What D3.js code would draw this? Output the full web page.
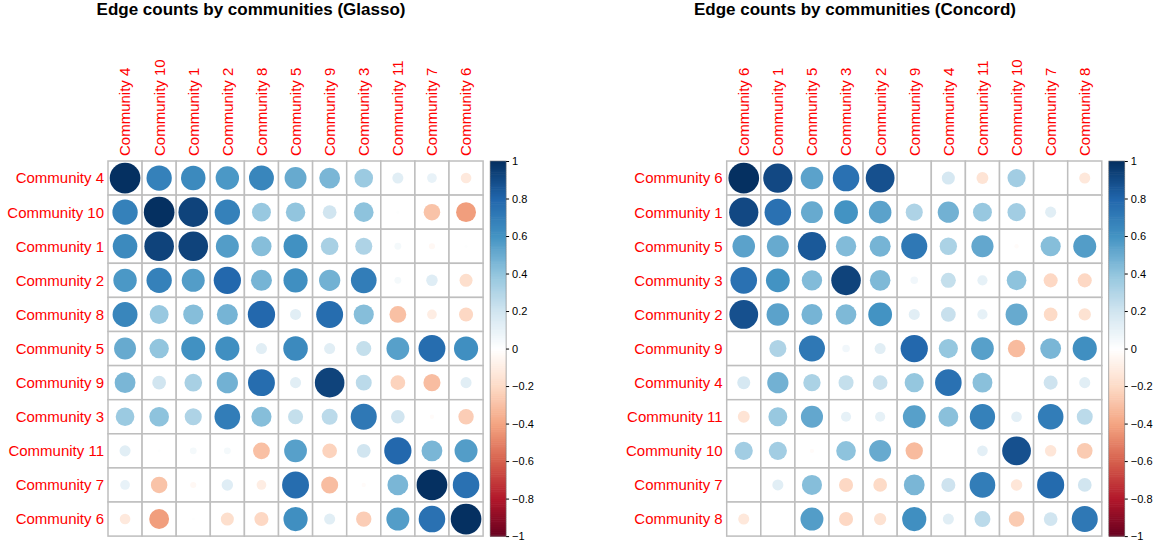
<!DOCTYPE html>
<html>
<head>
<meta charset="utf-8">
<script src="https://cdn.jsdelivr.net/npm/d3@7"></script>
<style>
  body { margin: 0; background: #fff; }
  svg { font-family: "Liberation Sans", Arial, sans-serif; }
</style>
</head>
<body>
<svg id="chart" width="1153" height="546"></svg>
<script>
// order of the communities in each panel (hclust order)
var glassoLabels = ["Community 4", "Community 10", "Community 1", "Community 2", "Community 8",
  "Community 5", "Community 9", "Community 3", "Community 11", "Community 7", "Community 6"];

// values
var glassoValues = [
  [1.00, 0.68, 0.64, 0.58, 0.66, 0.51, 0.46, 0.37, 0.13, 0.10, -0.12],
  [0.68, 1.00, 0.93, 0.68, 0.38, 0.40, 0.20, 0.41, 0.01, -0.29, -0.42],
  [0.64, 0.93, 0.93, 0.56, 0.43, 0.61, 0.33, 0.31, 0.05, -0.04, 0.01],
  [0.58, 0.68, 0.56, 0.79, 0.47, 0.62, 0.48, 0.70, 0.05, 0.14, -0.18],
  [0.66, 0.38, 0.43, 0.47, 0.79, 0.13, 0.77, 0.43, -0.30, -0.10, -0.21],
  [0.51, 0.40, 0.61, 0.62, 0.13, 0.64, 0.13, 0.24, 0.55, 0.77, 0.62],
  [0.46, 0.20, 0.33, 0.48, 0.77, 0.13, 0.93, 0.27, -0.23, -0.31, 0.13],
  [0.37, 0.41, 0.31, 0.70, 0.43, 0.24, 0.27, 0.72, 0.20, -0.02, -0.25],
  [0.13, 0.01, 0.05, 0.05, -0.30, 0.55, -0.23, 0.20, 0.79, 0.46, 0.56],
  [0.10, -0.29, -0.04, 0.14, -0.10, 0.77, -0.31, -0.02, 0.46, 1.00, 0.75],
  [-0.12, -0.42, 0.01, -0.18, -0.21, 0.62, 0.13, -0.25, 0.56, 0.75, 1.00]
];

var concordLabels = ["Community 6", "Community 1", "Community 5", "Community 3", "Community 2",
  "Community 9", "Community 4", "Community 11", "Community 10", "Community 7", "Community 8"];

var concordValues = [
  [1.00, 0.91, 0.54, 0.75, 0.88, 0.00, 0.18, -0.15, 0.35, 0.00, -0.13],
  [0.91, 0.75, 0.51, 0.60, 0.54, 0.31, 0.48, 0.38, 0.35, 0.13, 0.00],
  [0.54, 0.51, 0.85, 0.44, 0.47, 0.72, 0.32, 0.52, -0.02, 0.43, 0.56],
  [0.75, 0.60, 0.44, 0.93, 0.45, 0.06, 0.24, 0.11, 0.41, -0.21, -0.21],
  [0.88, 0.54, 0.47, 0.45, 0.60, 0.13, 0.23, 0.11, 0.51, -0.20, -0.16],
  [0.00, 0.31, 0.72, 0.06, 0.13, 0.79, 0.39, 0.55, -0.32, 0.46, 0.62],
  [0.18, 0.48, 0.32, 0.24, 0.23, 0.39, 0.75, 0.42, 0.00, 0.21, 0.13],
  [-0.15, 0.38, 0.52, 0.11, 0.11, 0.55, 0.42, 0.68, 0.12, 0.70, 0.27],
  [0.35, 0.35, -0.02, 0.41, 0.51, -0.32, 0.00, 0.12, 0.88, -0.14, -0.26],
  [0.00, 0.13, 0.43, -0.21, -0.20, 0.46, 0.21, 0.70, -0.14, 0.78, 0.20],
  [-0.13, 0.00, 0.56, -0.21, -0.16, 0.62, 0.13, 0.27, -0.26, 0.20, 0.72]
];

var legendTicks = [1, 0.8, 0.6, 0.4, 0.2, 0, -0.2, -0.4, -0.6, -0.8, -1];

// corrplot's RdBu palette stops
var paletteStops = ["#67001F", "#B2182B", "#D6604D", "#F4A582", "#FDDBC7", "#FFFFFF",
  "#D1E5F0", "#92C5DE", "#4393C3", "#2166AC", "#053061"];

var color = d3.scaleLinear()
  .domain(d3.range(11).map(function(i) { return -1 + i * 0.2; }))
  .range(paletteStops);

var svg = d3.select("#chart");

function drawPanel(opts) {
  var labels = opts.labels,
      values = opts.values,
      n = labels.length,
      side = opts.cell * n;

  var g = svg.append("g").attr("transform", "translate(" + opts.x + "," + opts.y + ")");

  var x = d3.scaleBand().domain(labels).range([0, side]);
  var y = d3.scaleBand().domain(labels).range([0, side]);
  var r = d3.scaleSqrt().domain([0, 1]).range([0, 0.45 * x.bandwidth()]);

  // cells (white background + grey grid)
  var cells = [];
  values.forEach(function(row, i) {
    row.forEach(function(v, j) {
      cells.push({ row: labels[i], col: labels[j], v: v });
    });
  });

  g.selectAll("rect.cell")
    .data(cells)
    .enter().append("rect")
      .attr("class", "cell")
      .attr("x", function(d) { return x(d.col); })
      .attr("y", function(d) { return y(d.row); })
      .attr("width", x.bandwidth())
      .attr("height", y.bandwidth())
      .attr("fill", "#fff")
      .attr("stroke", "#BEBEBE")
      .attr("stroke-width", 1.5);

  g.selectAll("circle")
    .data(cells)
    .enter().append("circle")
      .attr("cx", function(d) { return x(d.col) + x.bandwidth() / 2; })
      .attr("cy", function(d) { return y(d.row) + y.bandwidth() / 2; })
      .attr("r", function(d) { return r(Math.abs(d.v)); })
      .attr("fill", function(d) { return color(d.v); });

  // row labels
  g.selectAll("text.rowlab")
    .data(labels)
    .enter().append("text")
      .attr("class", "rowlab")
      .attr("x", -4)
      .attr("y", function(d) { return y(d) + y.bandwidth() / 2; })
      .attr("dy", "0.36em")
      .attr("text-anchor", "end")
      .attr("fill", "red")
      .attr("font-size", "15px")
      .text(function(d) { return d; });

  // column labels, rotated
  g.selectAll("text.collab")
    .data(labels)
    .enter().append("text")
      .attr("class", "collab")
      .attr("transform", function(d) {
        return "translate(" + (x(d) + x.bandwidth() / 2) + ",-5) rotate(-90)";
      })
      .attr("dy", "0.36em")
      .attr("text-anchor", "start")
      .attr("fill", "red")
      .attr("font-size", "15px")
      .text(function(d) { return d; });

  // title
  svg.append("text")
    .attr("x", opts.titleX)
    .attr("y", 15)
    .attr("text-anchor", "middle")
    .attr("font-weight", "bold")
    .attr("font-size", "17px")
    .text(opts.title);

  // colour legend
  var lx = side + 7, lw = 16;
  var ly = d3.scaleLinear().domain([1, -1]).range([0, side]);
  var steps = d3.range(200).map(function(i) { return -1 + (i + 0.5) * 2 / 200; });
  var leg = g.append("g").attr("transform", "translate(" + lx + ",0)");
  leg.selectAll("rect")
    .data(steps)
    .enter().append("rect")
      .attr("x", 0)
      .attr("y", function(d) { return ly(d + 0.005); })
      .attr("width", lw)
      .attr("height", side / 200 + 0.6)
      .attr("fill", function(d) { return color(d); });
  leg.append("rect")
    .attr("width", lw)
    .attr("height", side)
    .attr("fill", "none")
    .attr("stroke", "#777")
    .attr("stroke-width", 0.6);

  var axis = d3.axisRight(ly)
    .tickValues(legendTicks)
    .tickSize(3)
    .tickFormat(function(d) { return d < 0 ? "\u2212" + Math.abs(d) : String(d); });
  var ax = leg.append("g")
    .attr("transform", "translate(" + lw + ",0)")
    .call(axis);
  ax.select(".domain").remove();
  ax.selectAll("text")
    .attr("font-size", "11px")
    .attr("font-family", "'Liberation Sans', Arial, sans-serif")
    .attr("fill", "#000")
    .attr("x", 6);
  ax.selectAll("line").attr("stroke", "#000");
}

drawPanel({ labels: glassoLabels, values: glassoValues, x: 108, y: 161, cell: 34.1,
  title: "Edge counts by communities (Glasso)", titleX: 251 });
drawPanel({ labels: concordLabels, values: concordValues, x: 726.7, y: 161, cell: 34.1,
  title: "Edge counts by communities (Concord)", titleX: 855 });
</script>
</body>
</html>
